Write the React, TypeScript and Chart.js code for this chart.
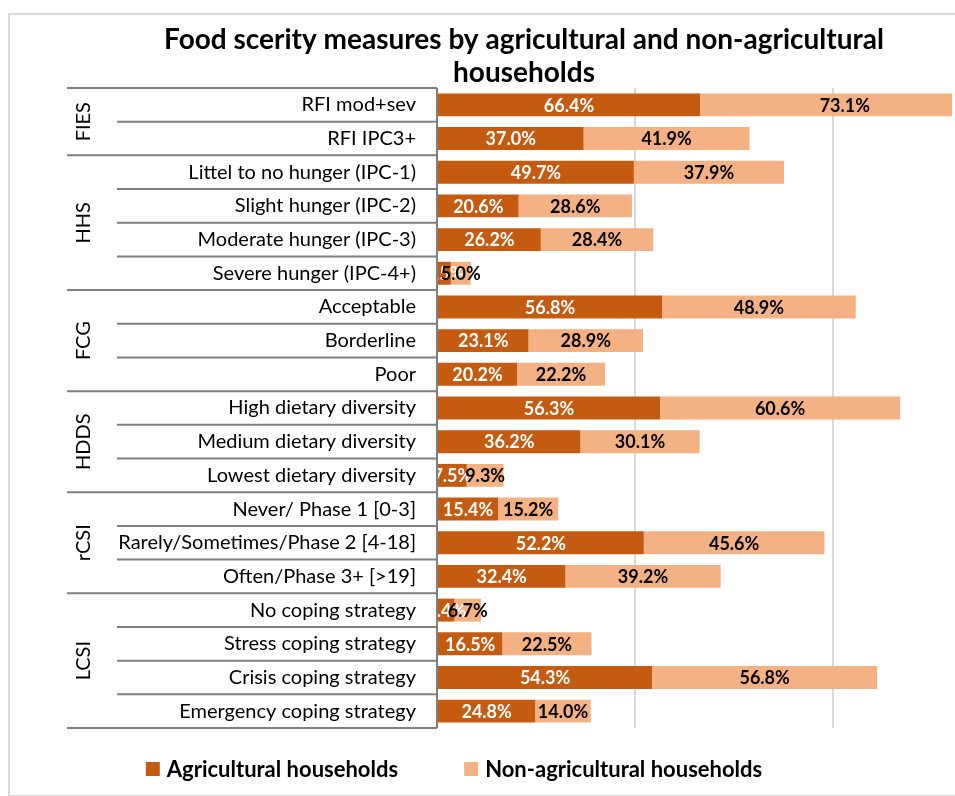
import React, { useEffect, useRef } from "react";
import { Chart, registerables } from "chart.js";

Chart.register(...registerables);

// Indicator rows (top to bottom)
const categories = [
  "RFI mod+sev",
  "RFI IPC3+",
  "Littel to no hunger (IPC-1)",
  "Slight hunger (IPC-2)",
  "Moderate hunger (IPC-3)",
  "Severe hunger (IPC-4+)",
  "Acceptable",
  "Borderline",
  "Poor",
  "High dietary diversity",
  "Medium dietary diversity",
  "Lowest dietary diversity",
  "Never/ Phase 1 [0-3]",
  "Rarely/Sometimes/Phase 2 [4-18]",
  "Often/Phase 3+ [>19]",
  "No coping strategy",
  "Stress coping strategy",
  "Crisis coping strategy",
  "Emergency coping strategy",
];

// Indicator groups and how many rows each one spans
const groupNames = ["FIES", "HHS", "FCG", "HDDS", "rCSI", "LCSI"];
const groupSizes = [2, 4, 3, 3, 3, 4];

// Percent of households
const agricultural = [
  66.4, 37.0, 49.7, 20.6, 26.2, 3.5, 56.8, 23.1, 20.2, 56.3, 36.2, 7.5, 15.4,
  52.2, 32.4, 4.4, 16.5, 54.3, 24.8,
];
const nonAgricultural = [
  73.1, 41.9, 37.9, 28.6, 28.4, 5.0, 48.9, 28.9, 22.2, 60.6, 30.1, 9.3, 15.2,
  45.6, 39.2, 6.7, 22.5, 56.8, 14.0,
];

const seriesNames = ["Agricultural households", "Non-agricultural households"];
const titleLines = [
  "Food scerity measures by agricultural and non-agricultural",
  "households",
];

const DARK = "#C55A11";
const LIGHT = "#F4B183";
const AXIS_GRAY = "#7f7f7f";
const FONT = "Lato, 'Open Sans', 'DejaVu Sans', sans-serif";

// Title and legend drawn on the canvas
const titleLegendPlugin = {
  id: "titleLegend",
  afterDraw(chart: any) {
    const ctx = chart.ctx;
    ctx.save();
    ctx.fillStyle = "#000";
    ctx.textAlign = "center";
    ctx.textBaseline = "middle";
    ctx.font = `bold 28px ${FONT}`;
    ctx.fillText(titleLines[0], 524, 40);
    ctx.fillText(titleLines[1], 524, 73);

    // legend
    ctx.font = `bold 22px ${FONT}`;
    const box = 14;
    const gapBoxText = 7;
    const gapItems = 66;
    const widths = seriesNames.map((s) => ctx.measureText(s).width);
    const total =
      widths.reduce((a, b) => a + b, 0) + 2 * (box + gapBoxText) + gapItems;
    let x = 454 - total / 2;
    const y = 769;
    const colors = [DARK, LIGHT];
    ctx.textAlign = "left";
    seriesNames.forEach((s, i) => {
      ctx.fillStyle = colors[i];
      ctx.fillRect(x, y - box / 2, box, box);
      x += box + gapBoxText;
      ctx.fillStyle = "#000";
      ctx.fillText(s, x, y + 1);
      x += widths[i] + gapItems;
    });
    ctx.restore();
  },
};

// Two-level category axis: group labels and separator lines
const hierarchyPlugin = {
  id: "hierarchy",
  afterDraw(chart: any) {
    const ctx = chart.ctx;
    const area = chart.chartArea;
    const n = categories.length;
    const rowH = (area.bottom - area.top) / n;
    const outerX = 67;
    const innerX = 117;
    ctx.save();
    ctx.strokeStyle = AXIS_GRAY;
    ctx.lineWidth = 2;
    // axis line
    ctx.beginPath();
    ctx.moveTo(area.left, area.top);
    ctx.lineTo(area.left, area.bottom);
    ctx.stroke();
    let row = 0;
    const groupStarts: number[] = [];
    groupSizes.forEach((sz) => {
      groupStarts.push(row);
      row += sz;
    });
    for (let k = 0; k <= n; k++) {
      const y = area.top + k * rowH;
      const isGroupEdge = k === n || groupStarts.includes(k);
      ctx.beginPath();
      ctx.moveTo(isGroupEdge ? outerX : innerX, y);
      ctx.lineTo(area.left, y);
      ctx.stroke();
    }
    // group labels, rotated
    ctx.fillStyle = "#000";
    ctx.font = `20px ${FONT}`;
    ctx.textAlign = "center";
    ctx.textBaseline = "middle";
    groupNames.forEach((g, i) => {
      const yMid = area.top + (groupStarts[i] + groupSizes[i] / 2) * rowH;
      ctx.save();
      ctx.translate(84, yMid);
      ctx.rotate(-Math.PI / 2);
      ctx.fillText(g, 0, 0);
      ctx.restore();
    });
    ctx.restore();
  },
};

// Percentage labels centred in each bar segment
const valueLabelPlugin = {
  id: "valueLabels",
  afterDatasetsDraw(chart: any) {
    const ctx = chart.ctx;
    ctx.save();
    ctx.font = `bold 18px ${FONT}`;
    ctx.textAlign = "center";
    ctx.textBaseline = "middle";
    const colors = ["#ffffff", "#000000"];
    chart.data.datasets.forEach((ds: any, di: number) => {
      const meta = chart.getDatasetMeta(di);
      meta.data.forEach((el: any, i: number) => {
        const v = ds.data[i];
        const cx = (el.x + el.base) / 2;
        ctx.fillStyle = colors[di];
        ctx.fillText(v.toFixed(1) + "%", cx, el.y + 1);
      });
    });
    ctx.restore();
  },
};

export default function App() {
  const ref = useRef<HTMLCanvasElement | null>(null);

  useEffect(() => {
    if (!ref.current) return;
    const chart = new Chart(ref.current, {
      type: "bar",
      data: {
        labels: categories,
        datasets: [
          {
            label: seriesNames[0],
            data: agricultural,
            backgroundColor: DARK,
            barPercentage: 0.68,
            categoryPercentage: 1,
            clip: 0,
          },
          {
            label: seriesNames[1],
            data: nonAgricultural,
            backgroundColor: LIGHT,
            barPercentage: 0.68,
            categoryPercentage: 1,
            clip: 0,
          },
        ],
      },
      options: {
        indexAxis: "y",
        animation: false,
        responsive: false,
        devicePixelRatio: 1,
        layout: { padding: { top: 88, bottom: 68, left: 0, right: 3 } },
        plugins: {
          legend: { display: false },
          title: { display: false },
          tooltip: { enabled: false },
        },
        scales: {
          x: {
            stacked: true,
            min: 0,
            max: 130,
            ticks: { display: false, stepSize: 50 },
            border: { display: false },
            grid: {
              drawTicks: false,
              lineWidth: 2,
              color: (c: any) =>
                c.tick && (c.tick.value === 50 || c.tick.value === 100)
                  ? "#d9d9d9"
                  : "rgba(0,0,0,0)",
            },
            afterFit: (s: any) => {
              s.height = 0;
            },
          },
          y: {
            stacked: true,
            border: { display: false },
            grid: { display: false, drawTicks: false },
            ticks: {
              padding: 21,
              color: "#000",
              font: { family: FONT, size: 20 },
              autoSkip: false,
            },
            afterFit: (s: any) => {
              s.width = 437;
            },
          },
        },
      },
      plugins: [hierarchyPlugin, valueLabelPlugin, titleLegendPlugin],
    });
    return () => chart.destroy();
  }, []);

  return (
    <div
      style={{
        position: "fixed",
        left: 0,
        top: 0,
        width: 955,
        height: 796,
        background: "#fff",
        overflow: "hidden",
      }}
    >
      <div
        style={{
          position: "absolute",
          left: 8,
          top: 13,
          width: 1000,
          height: 780,
          border: "2px solid #d9d9d9",
        }}
      />
      <canvas
        ref={ref}
        width={955}
        height={796}
        style={{ position: "absolute", left: 0, top: 0 }}
      />
    </div>
  );
}
